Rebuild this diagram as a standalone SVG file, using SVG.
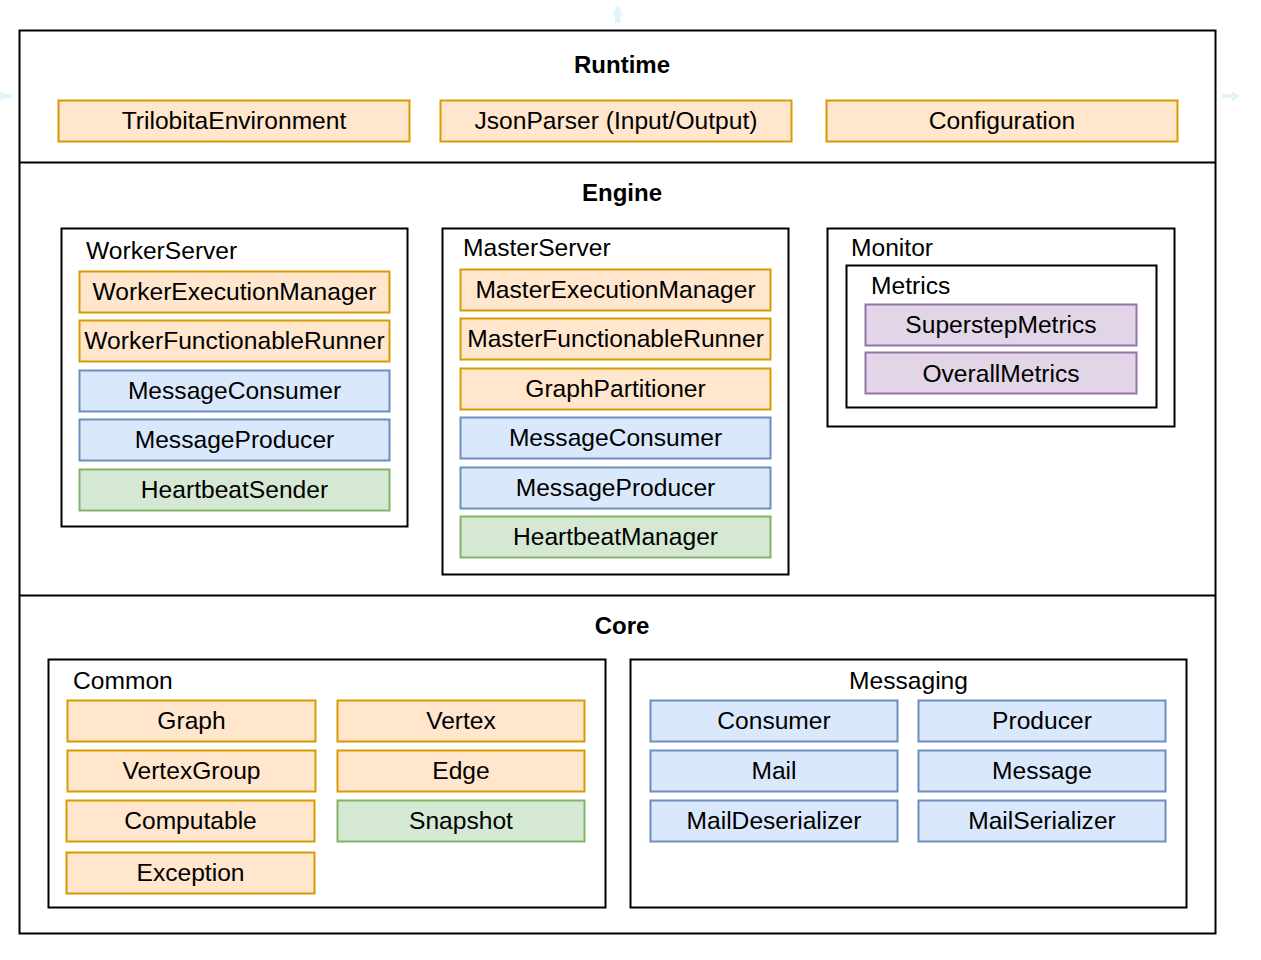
<svg xmlns="http://www.w3.org/2000/svg" width="1261" height="960" viewBox="0 0 1261 960">
<style>
text{font-family:"Liberation Sans",Arial,sans-serif;font-size:24.6px;fill:#000}
.c{text-anchor:middle}
.b{font-weight:bold;text-anchor:middle;font-size:24px}
.frame{fill:#fff;stroke:#000;stroke-width:2}
.div{stroke:#000;stroke-width:2}
.o{fill:#ffe6cc;stroke:#d79b00;stroke-width:2}
.bl{fill:#dae8fc;stroke:#6c8ebf;stroke-width:2}
.g{fill:#d5e8d4;stroke:#82b366;stroke-width:2}
.p{fill:#e1d5e7;stroke:#9673a6;stroke-width:2}
.hint{fill:#29b6f2;opacity:0.15}
</style>
<rect width="1261" height="960" fill="#fff"/>
<g id="hints">
<path class="hint" d="M615,23 L615,15 L612.5,15 L617.7,5 L623,15 L620.5,15 L620.5,23 Z"/>
<path class="hint" d="M1222,94.3 L1232,94.3 L1232,91 L1240,96.3 L1232,101.7 L1232,98.3 L1222,98.3 Z"/>
<path class="hint" d="M12,94 L3,94 L3,91.5 L-5,96.2 L3,101.5 L3,98.3 L12,98.3 Z"/>
</g>
<g id="outer">
<rect class="frame" x="19.5" y="30.5" width="1196" height="903"/>
<line class="div" x1="19.5" y1="162.5" x2="1215.5" y2="162.5"/>
<line class="div" x1="19.5" y1="595.5" x2="1215.5" y2="595.5"/>
<text class="b" x="622" y="73">Runtime</text>
<text class="b" x="622" y="201">Engine</text>
<text class="b" x="622" y="634">Core</text>
</g>
<g id="runtime">
<g id="trilobita-env"><rect class="o" x="58.5" y="100.5" width="351" height="41"/><text class="c" x="234" y="128.5">TrilobitaEnvironment</text></g>
<g id="jsonparser"><rect class="o" x="440.5" y="100.5" width="351" height="41"/><text class="c" x="616" y="128.5">JsonParser (Input/Output)</text></g>
<g id="configuration"><rect class="o" x="826.5" y="100.5" width="351" height="41"/><text class="c" x="1002" y="128.5">Configuration</text></g>
</g>
<g id="workerserver">
<rect class="frame" x="61.5" y="228.5" width="346" height="298"/>
<text x="86" y="259">WorkerServer</text>
<g id="w-exec"><rect class="o" x="79.5" y="271.5" width="310" height="41"/><text class="c" x="234.5" y="300">WorkerExecutionManager</text></g>
<g id="w-runner"><rect class="o" x="79.5" y="320.5" width="310" height="41"/><text class="c" x="234.5" y="349">WorkerFunctionableRunner</text></g>
<g id="w-consumer"><rect class="bl" x="79.5" y="370.5" width="310" height="41"/><text class="c" x="234.5" y="399">MessageConsumer</text></g>
<g id="w-producer"><rect class="bl" x="79.5" y="419.5" width="310" height="41"/><text class="c" x="234.5" y="448">MessageProducer</text></g>
<g id="w-heartbeat"><rect class="g" x="79.5" y="469.5" width="310" height="41"/><text class="c" x="234.5" y="498">HeartbeatSender</text></g>
</g>
<g id="masterserver">
<rect class="frame" x="442.5" y="228.5" width="346" height="346"/>
<text x="463" y="256">MasterServer</text>
<g id="m-exec"><rect class="o" x="460.5" y="269.5" width="310" height="41"/><text class="c" x="615.5" y="298">MasterExecutionManager</text></g>
<g id="m-runner"><rect class="o" x="460.5" y="318.5" width="310" height="41"/><text class="c" x="615.5" y="347">MasterFunctionableRunner</text></g>
<g id="m-partitioner"><rect class="o" x="460.5" y="368.5" width="310" height="41"/><text class="c" x="615.5" y="397">GraphPartitioner</text></g>
<g id="m-consumer"><rect class="bl" x="460.5" y="417.5" width="310" height="41"/><text class="c" x="615.5" y="446">MessageConsumer</text></g>
<g id="m-producer"><rect class="bl" x="460.5" y="467.5" width="310" height="41"/><text class="c" x="615.5" y="496">MessageProducer</text></g>
<g id="m-heartbeat"><rect class="g" x="460.5" y="516.5" width="310" height="41"/><text class="c" x="615.5" y="545">HeartbeatManager</text></g>
</g>
<g id="monitor">
<rect class="frame" x="827.5" y="228.5" width="347" height="198"/>
<text x="851" y="256">Monitor</text>
<g id="metrics">
<rect class="frame" x="846.5" y="265.5" width="310" height="142"/>
<text x="871" y="294">Metrics</text>
<g id="superstep"><rect class="p" x="865.5" y="304.5" width="271" height="41"/><text class="c" x="1001" y="333">SuperstepMetrics</text></g>
<g id="overall"><rect class="p" x="865.5" y="352.5" width="271" height="41"/><text class="c" x="1001" y="382">OverallMetrics</text></g>
</g>
</g>
<g id="common">
<rect class="frame" x="48.5" y="659.5" width="557" height="248"/>
<text x="73" y="689">Common</text>
<g id="graph"><rect class="o" x="67.5" y="700.5" width="248" height="41"/><text class="c" x="191.5" y="729">Graph</text></g>
<g id="vertex"><rect class="o" x="337.5" y="700.5" width="247" height="41"/><text class="c" x="461" y="729">Vertex</text></g>
<g id="vertexgroup"><rect class="o" x="67.5" y="750.5" width="248" height="41"/><text class="c" x="191.5" y="779">VertexGroup</text></g>
<g id="edge"><rect class="o" x="337.5" y="750.5" width="247" height="41"/><text class="c" x="461" y="779">Edge</text></g>
<g id="computable"><rect class="o" x="66.5" y="800.5" width="248" height="41"/><text class="c" x="190.5" y="829">Computable</text></g>
<g id="snapshot"><rect class="g" x="337.5" y="800.5" width="247" height="41"/><text class="c" x="461" y="829">Snapshot</text></g>
<g id="exception"><rect class="o" x="66.5" y="852.5" width="248" height="41"/><text class="c" x="190.5" y="881">Exception</text></g>
</g>
<g id="messaging">
<rect class="frame" x="630.5" y="659.5" width="556" height="248"/>
<text class="c" x="908.5" y="689">Messaging</text>
<g id="consumer"><rect class="bl" x="650.5" y="700.5" width="247" height="41"/><text class="c" x="774" y="729">Consumer</text></g>
<g id="producer"><rect class="bl" x="918.5" y="700.5" width="247" height="41"/><text class="c" x="1042" y="729">Producer</text></g>
<g id="mail"><rect class="bl" x="650.5" y="750.5" width="247" height="41"/><text class="c" x="774" y="779">Mail</text></g>
<g id="message"><rect class="bl" x="918.5" y="750.5" width="247" height="41"/><text class="c" x="1042" y="779">Message</text></g>
<g id="maildeserializer"><rect class="bl" x="650.5" y="800.5" width="247" height="41"/><text class="c" x="774" y="829">MailDeserializer</text></g>
<g id="mailserializer"><rect class="bl" x="918.5" y="800.5" width="247" height="41"/><text class="c" x="1042" y="829">MailSerializer</text></g>
</g>
<g id="connectors"/>
</svg>
